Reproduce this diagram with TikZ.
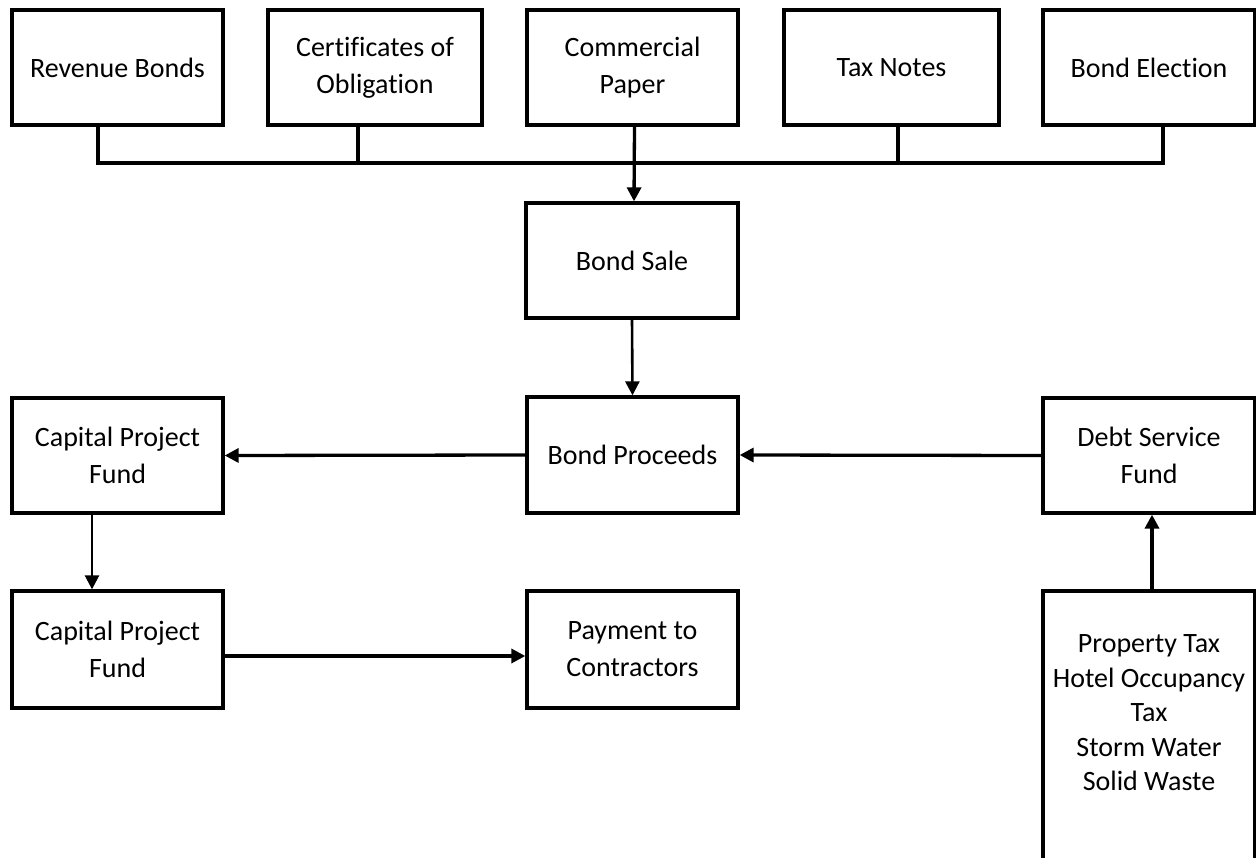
\documentclass[tikz,border=0pt]{standalone}
\usepackage{fontspec}
\setmainfont{Carlito}[Ligatures=NoCommon]
\usetikzlibrary{arrows.meta}
\begin{document}
\begin{tikzpicture}[x=1pt,y=-1pt,
  box/.style={draw,line width=3.3pt,minimum width=211pt,minimum height=115pt,inner sep=0pt,align=center,font=\fontsize{28}{37}\selectfont},
  txt/.style={inner sep=0pt,align=center,font=\fontsize{28}{34.5}\selectfont},
  conn/.style={line width=3.3pt},
  thin conn/.style={line width=2.6pt},
  arr/.style={-{Triangle[width=14pt,length=14pt]}},
]
\useasboundingbox (0,0) rectangle (1256,858);
\clip (0,0) rectangle (1256,858);
% top row
\node[box] (rb) at (117.5,67.5) {Revenue Bonds};
\node[box,minimum width=214pt] (co) at (375,67.5) {Certificates of\\Obligation};
\node[box] (cp) at (632.5,67.5) {Commercial\\Paper};
\node[box,minimum width=215pt] (tn) at (891.5,67.5) {Tax Notes};
\node[box,minimum width=212pt] (be) at (1149,67.5) {Bond Election};
% middle
\node[box,minimum width=212pt] (bs) at (632,260.5) {Bond Sale};
\node[box,minimum height=116pt] (bp) at (632.5,455) {Bond Proceeds};
\node[box] (cpf1) at (117.5,455.5) {Capital Project\\Fund};
\node[box,minimum width=212pt] (ds) at (1149,455.5) {Debt Service\\Fund};
% bottom
\node[box,minimum height=117pt] (cpf2) at (117.5,649.5) {Capital Project\\Fund};
\node[box,minimum height=117pt] (pc) at (632.5,649.5) {Payment to\\Contractors};
\node[box,minimum width=212pt,minimum height=309pt] (ptbox) at (1149,745.5) {};
\node[txt] (pt) at (1149,713) {Property Tax\\Hotel Occupancy\\Tax\\Storm Water\\Solid Waste};
% bus
\coordinate (busy) at (0,163);
\draw[conn] ([xshift=-19.5pt]rb.south) |- ([xshift=14pt]be.south |- busy) -- ([xshift=14pt]be.south);
\draw[conn] ([xshift=-17pt]co.south) -- ([xshift=-17pt]co.south |- busy);
\draw[conn] ([xshift=6.5pt]tn.south) -- ([xshift=6.5pt]tn.south |- busy);
\draw[conn,arr] ([xshift=2pt]cp.south) -- ([xshift=2pt]bs.north);
% flows
\draw[thin conn,arr] (bs.south) -- (bp.north);
\draw[conn,arr] (bp.west) -- (cpf1.east);
\draw[conn,arr] (ds.west) -- (bp.east);
\draw[thin conn,arr] ([xshift=-25.5pt]cpf1.south) -- ([xshift=-25.5pt]cpf2.north);
\draw[conn,arr] ([yshift=-6.5pt]cpf2.east) -- ([yshift=-6.5pt]pc.west);
\draw[conn,line width=3.6pt,arr] ([xshift=3pt]ptbox.north) -- ([xshift=3pt]ds.south);
\end{tikzpicture}
\end{document}
